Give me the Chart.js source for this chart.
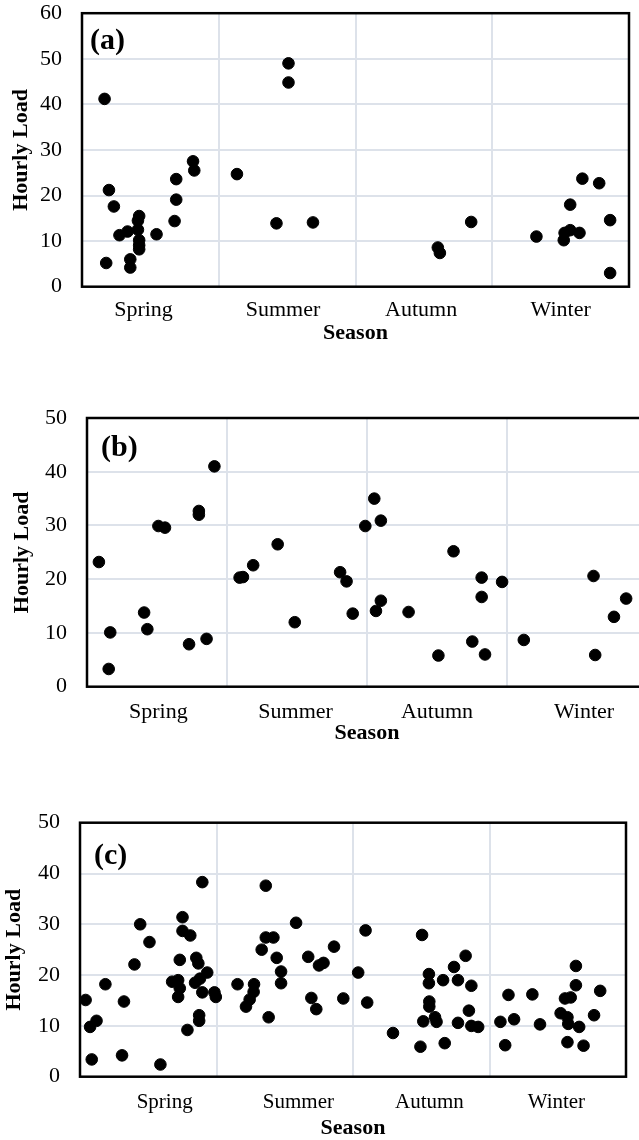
<!DOCTYPE html>
<html>
<head>
<meta charset="utf-8">
<script src="https://cdn.jsdelivr.net/npm/chart.js@4.4.1/dist/chart.umd.min.js"></script>
<style>
  body { margin: 0; background: #fff; overflow: hidden; width: 639px; height: 1140px; position: relative; }
  canvas { position: absolute; left: 0; }
  .tag { position: absolute; font: bold 30px "Liberation Serif", "Times New Roman", serif; line-height: 30px; color: #000; }
</style>
</head>
<body>
<canvas id="chartA" width="639" height="360" style="top:0px"></canvas>
<canvas id="chartB" width="660" height="370" style="top:390px"></canvas>
<canvas id="chartC" width="639" height="350" style="top:790px"></canvas>
<div class="tag" style="left:90px;top:24px">(a)</div>
<div class="tag" style="left:101px;top:431px">(b)</div>
<div class="tag" style="left:94px;top:839px">(c)</div>

<script>
const seasons = ['Spring', 'Summer', 'Autumn', 'Winter'];

// panel (a) - position of each point inside its season band, and its load
const aSpringPos = [0.165, 0.177, 0.197, 0.233, 0.274, 0.333, 0.353, 0.353, 0.418, 0.409, 0.409, 0.418, 0.418, 0.418, 0.545, 0.677, 0.689, 0.689, 0.812, 0.821];
const aSpringLoad = [41.2, 5.2, 21.2, 17.6, 11.3, 12.1, 6.0, 4.2, 15.5, 14.5, 12.5, 10.2, 9.1, 8.2, 11.5, 14.4, 19.1, 23.6, 27.5, 25.5];
const aSummerPos = [0.133, 0.510, 0.510, 0.422, 0.689];
const aSummerLoad = [24.7, 49.0, 44.8, 13.9, 14.1];
const aAutumnPos = [0.602, 0.617, 0.846];
const aAutumnLoad = [8.6, 7.4, 14.2];
const aWinterPos = [0.323, 0.523, 0.529, 0.570, 0.570, 0.638, 0.659, 0.782, 0.862, 0.862];
const aWinterLoad = [11.0, 10.2, 11.8, 12.4, 18.0, 11.8, 23.7, 22.7, 14.6, 3.0];

// panel (b)
const bSpringPos = [0.085, 0.155, 0.166, 0.408, 0.431, 0.510, 0.557, 0.729, 0.799, 0.799, 0.854, 0.910];
const bSpringLoad = [23.2, 3.3, 10.1, 13.8, 10.7, 29.9, 29.6, 7.9, 32.7, 32.0, 8.9, 41.0];
const bSummerPos = [0.090, 0.114, 0.187, 0.362, 0.484, 0.808, 0.854, 0.898, 0.988];
const bSummerLoad = [20.3, 20.4, 22.6, 26.5, 12.0, 21.3, 19.6, 13.6, 29.9];
const bAutumnPos = [0.052, 0.099, 0.099, 0.064, 0.297, 0.510, 0.618, 0.752, 0.819, 0.819, 0.843, 0.965];
const bAutumnLoad = [35.0, 30.9, 16.0, 14.1, 13.9, 5.8, 25.2, 8.4, 20.3, 16.7, 6.0, 19.5];
const bWinterPos = [0.120, 0.618, 0.630, 0.764, 0.851];
const bWinterLoad = [8.7, 20.6, 5.9, 13.0, 16.4];

// panel (c)
const cSpringPos = [0.041, 0.074, 0.121, 0.086, 0.186, 0.308, 0.322, 0.399, 0.441, 0.509, 0.589, 0.675, 0.719, 0.719, 0.731, 0.731, 0.751, 0.751, 0.787, 0.808, 0.843, 0.852, 0.867, 0.879, 0.873, 0.873, 0.896, 0.896, 0.932, 0.985, 0.995];
const cSpringLoad = [15.1, 9.8, 11.0, 3.4, 18.2, 4.2, 14.8, 22.1, 30.0, 26.5, 2.4, 18.7, 19.0, 15.7, 17.4, 23.0, 31.4, 28.7, 9.2, 27.8, 18.5, 23.4, 22.3, 19.3, 12.1, 11.0, 38.3, 16.6, 20.5, 16.6, 15.7];
const cSummerPos = [0.154, 0.216, 0.243, 0.272, 0.275, 0.331, 0.361, 0.361, 0.382, 0.417, 0.441, 0.473, 0.473, 0.583, 0.672, 0.695, 0.731, 0.751, 0.784, 0.861, 0.929];
const cSummerLoad = [18.2, 13.8, 15.2, 16.7, 18.2, 25.0, 37.6, 27.4, 11.7, 27.4, 23.4, 20.7, 18.4, 30.3, 23.6, 15.5, 13.3, 21.9, 22.4, 25.6, 15.4];
const cAutumnPos = [0.038, 0.092, 0.104, 0.293, 0.494, 0.506, 0.515, 0.556, 0.556, 0.559, 0.559, 0.601, 0.612, 0.660, 0.672, 0.740, 0.769, 0.769, 0.825, 0.849, 0.867, 0.867, 0.917];
const cAutumnLoad = [20.5, 28.8, 14.6, 8.6, 5.9, 27.9, 10.9, 20.2, 18.4, 14.8, 13.8, 11.7, 10.8, 19.0, 6.6, 21.6, 19.0, 10.6, 23.8, 13.0, 17.9, 10.0, 9.8];
const cWinterPos = [0.080, 0.115, 0.139, 0.180, 0.314, 0.370, 0.521, 0.553, 0.571, 0.577, 0.571, 0.595, 0.633, 0.633, 0.657, 0.689, 0.766, 0.811];
const cWinterLoad = [10.8, 6.2, 16.1, 11.3, 16.2, 10.3, 12.5, 15.4, 11.7, 10.4, 6.8, 15.6, 21.8, 18.0, 9.8, 6.1, 12.1, 16.9];

const serif = '"Liberation Serif", "Times New Roman", serif';

function points(posLists, loadLists) {
    const out = [];
    posLists.forEach((pos, s) => {
        pos.forEach((p, i) => out.push({ x: s + p, y: loadLists[s][i] }));
    });
    return out;
}

// black frame round the plot area
const frame = {
    id: 'frame',
    afterDraw(chart) {
        const a = chart.chartArea;
        const c = chart.ctx;
        c.save();
        c.strokeStyle = '#000';
        c.lineWidth = 2.5;
        c.strokeRect(a.left, a.top, a.right - a.left, a.bottom - a.top);
        c.restore();
    }
};

function makeChart(id, data, o) {
    const tickVals = [0];
    o.labelAt.forEach((v, i) => { tickVals.push(v, i + 1); });
    return new Chart(document.getElementById(id), {
        type: 'scatter',
        data: {
            datasets: [{
                data: data,
                backgroundColor: '#000',
                borderColor: '#000',
                pointRadius: 5.8,
                pointHoverRadius: 5.8
            }]
        },
        options: {
            responsive: false,
            animation: false,
            events: [],
            layout: { padding: { top: o.top, right: o.right, bottom: 0, left: 0 } },
            plugins: { legend: { display: false }, tooltip: { enabled: false } },
            scales: {
                x: {
                    type: 'linear',
                    min: 0,
                    max: 4,
                    afterBuildTicks: s => { s.ticks = tickVals.map(v => ({ value: v })); },
                    afterFit: s => { s.height = o.xHeight; },
                    grid: {
                        drawTicks: false,
                        lineWidth: 2,
                        color: c => (c.tick && Number.isInteger(c.tick.value)) ? '#dde2ea' : 'rgba(0,0,0,0)'
                    },
                    border: { display: false },
                    ticks: {
                        autoSkip: false,
                        maxRotation: 0,
                        padding: o.xPad,
                        color: '#000',
                        font: { family: serif, size: o.xFont },
                        callback: (v, i) => (i % 2 === 1) ? seasons[(i - 1) / 2] : ''
                    },
                    title: {
                        display: true,
                        text: 'Season',
                        color: '#000',
                        font: { family: serif, size: 22, weight: 'bold' },
                        padding: { top: 0, bottom: o.titlePad }
                    }
                },
                y: {
                    min: 0,
                    max: o.yMax,
                    afterFit: s => { s.width = o.left; },
                    grid: { drawTicks: true, tickLength: 20, tickColor: 'rgba(0,0,0,0)', lineWidth: 2, color: '#dde2ea' },
                    border: { display: false },
                    ticks: {
                        stepSize: 10,
                        padding: 0,
                        color: '#000',
                        font: { family: serif, size: 22 }
                    },
                    title: {
                        display: true,
                        text: 'Hourly Load',
                        color: '#000',
                        font: { family: serif, size: 22, weight: 'bold' },
                        padding: { top: o.yTitlePad, bottom: 0 }
                    }
                }
            }
        },
        plugins: [frame]
    });
}

makeChart('chartA',
    points([aSpringPos, aSummerPos, aAutumnPos, aWinterPos], [aSpringLoad, aSummerLoad, aAutumnLoad, aWinterLoad]),
    { top: 13, right: 2, left: 82, xHeight: 73.3, xPad: 10, xFont: 22, titlePad: 13.8, yTitlePad: 8, yMax: 60, labelAt: [0.45, 1.47, 2.48, 3.5] });

makeChart('chartB',
    points([bSpringPos, bSummerPos, bAutumnPos, bWinterPos], [bSpringLoad, bSummerLoad, bAutumnLoad, bWinterLoad]),
    { top: 28, right: 13, left: 87, xHeight: 73.3, xPad: 12, xFont: 22, titlePad: 13.8, yTitlePad: 9, yMax: 50, labelAt: [0.51, 1.49, 2.5, 3.55] });

makeChart('chartC',
    points([cSpringPos, cSummerPos, cAutumnPos, cWinterPos], [cSpringLoad, cSummerLoad, cAutumnLoad, cWinterLoad]),
    { top: 32.7, right: 9, left: 80, xHeight: 63.3, xPad: 13, xFont: 21, titlePad: -2, yTitlePad: 1, yMax: 50, labelAt: [0.62, 1.6, 2.56, 3.49] });
</script>
</body>
</html>
